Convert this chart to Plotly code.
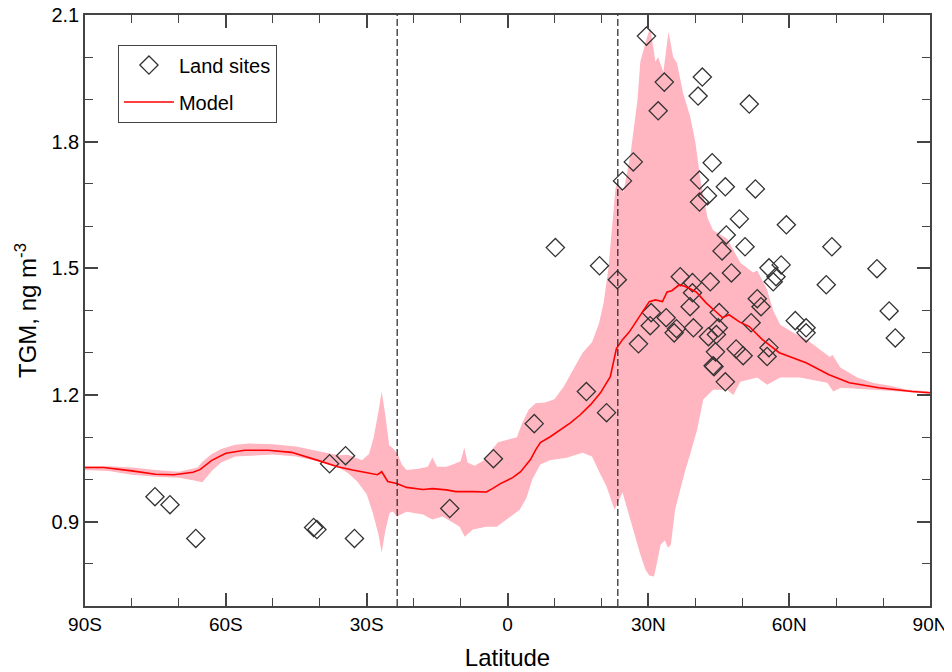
import plotly.graph_objects as go

# ---------------- data ----------------
# Model mean (red line)
model_lat = [-90, -86, -80, -75, -71, -67, -65.5, -63, -60, -56, -51, -46, -40.4, -36.2, -33, -29,
             -27.7, -26.8, -25.5, -23.6, -21.5, -18, -16, -13, -11, -7.4, -4.5, -3.2, -1.5, 0, 1.1,
             2.8, 4.9, 6, 7, 9.1, 11.3, 13.4, 15.5, 17.7, 19.8, 21.9, 23.2, 24.5, 26, 28.1, 30.2,
             31.5, 33, 34, 35, 36.6, 38, 40.2, 42.3, 44.4, 45.8, 47.2, 49.4, 51.5, 54.3, 57.9,
             63.6, 68.5, 72.8, 79.1, 86.2, 90]
model_val = [1.028, 1.028, 1.020, 1.012, 1.011, 1.017, 1.023, 1.045, 1.062, 1.069, 1.069, 1.064,
             1.045, 1.030, 1.022, 1.014, 1.011, 1.018, 0.995, 0.990, 0.981, 0.976, 0.978, 0.975,
             0.971, 0.971, 0.970, 0.978, 0.990, 0.998, 1.004, 1.018, 1.047, 1.070, 1.087, 1.101,
             1.118, 1.134, 1.153, 1.177, 1.205, 1.243, 1.310, 1.331, 1.350, 1.385, 1.421, 1.425,
             1.421, 1.444, 1.447, 1.461, 1.456, 1.444, 1.418, 1.397, 1.383, 1.390, 1.373, 1.362,
             1.331, 1.300, 1.276, 1.248, 1.229, 1.217, 1.208, 1.205]

# Model range: upper edge of the pink band
upper_lat = [-90, -85, -80, -75, -70, -66, -65, -63, -61, -58, -55, -50, -45, -40, -36, -34, -32.5,
             -31, -29.5, -28.5, -27.5, -26.8, -26, -25.2, -24.5, -23.5, -22.5, -21.5, -19, -17, -16,
             -15, -13, -11, -10, -9.2, -8.5, -7, -5, -3, -2, 0, 2, 3, 4.5, 6, 8, 10, 12, 14, 16, 18,
             19.5, 20.5, 21.5, 22.3, 23, 23.5, 24.7, 26.2, 27.7, 28.3, 29.8, 30.4, 31.5, 32.1, 33.2,
             34.3, 35.3, 36.1, 37.4, 38.9, 40, 41.1, 42.6, 43.8, 46.8, 49.6, 52.3, 53.2, 55.3, 56.6,
             58.1, 60.9, 63.8, 66.6, 68.7, 69.2, 70.9, 74.5, 78, 81.5, 85, 90]
upper_val = [1.031, 1.031, 1.028, 1.022, 1.018, 1.028, 1.042, 1.060, 1.072, 1.082, 1.085, 1.083,
             1.078, 1.066, 1.057, 1.058, 1.052, 1.045, 1.060, 1.100, 1.160, 1.208, 1.150, 1.080,
             1.075, 1.062, 1.035, 1.022, 1.025, 1.030, 1.052, 1.030, 1.030, 1.038, 1.043, 1.075,
             1.040, 1.032, 1.045, 1.075, 1.088, 1.094, 1.100, 1.130, 1.165, 1.180, 1.182, 1.190,
             1.220, 1.260, 1.300, 1.325, 1.370, 1.420, 1.500, 1.600, 1.690, 1.700, 1.680, 1.770,
             1.900, 1.990, 2.050, 2.070, 1.990, 2.000, 1.965, 2.060, 2.000, 1.986, 1.915, 1.860,
             1.800, 1.710, 1.620, 1.590, 1.570, 1.513, 1.490, 1.495, 1.449, 1.400, 1.366, 1.347,
             1.331, 1.307, 1.290, 1.295, 1.265, 1.241, 1.228, 1.222, 1.213, 1.208]

# Model range: lower edge of the pink band
lower_lat = [-90, -85, -80, -75, -70, -67, -65, -63, -61, -58, -50, -45, -40, -36, -34, -32, -30,
             -28.7, -27.5, -26.8, -26, -25.1, -24.4, -23.5, -22.5, -21.5, -18, -16, -13.8, -10.2,
             -9.1, -7.4, -4.5, -2.3, -0.2, 2.6, 4, 5.3, 7, 9, 12.6, 16, 18, 19.6, 21.1, 22.8, 24.5,
             26.6, 28.3, 29.4, 30.2, 31.2, 31.8, 32.6, 33.5, 34.2, 34.8, 35.7, 36.8, 37.9, 38.9,
             40.4, 41.7, 43.8, 46.8, 48.1, 49.6, 53.2, 55.3, 58.1, 62.3, 68.1, 69.4, 71, 78, 85, 90]
lower_val = [1.022, 1.020, 1.011, 1.006, 1.004, 0.998, 0.993, 1.020, 1.040, 1.054, 1.059, 1.054,
             1.042, 1.028, 1.015, 0.995, 0.965, 0.921, 0.870, 0.827, 0.880, 0.921, 0.923, 0.912,
             0.918, 0.923, 0.917, 0.905, 0.912, 0.888, 0.864, 0.881, 0.888, 0.888, 0.905, 0.928,
             0.955, 1.000, 1.035, 1.045, 1.051, 1.063, 1.054, 1.016, 0.983, 0.928, 0.969, 0.888,
             0.822, 0.786, 0.772, 0.770, 0.800, 0.845, 0.855, 0.838, 0.845, 0.928, 0.976, 1.023,
             1.059, 1.118, 1.189, 1.212, 1.212, 1.200, 1.231, 1.241, 1.224, 1.241, 1.241, 1.229,
             1.208, 1.217, 1.212, 1.207, 1.203]

# Observations at land sites (diamonds)
site_lat = [-75.1, -71.9, -66.4, -41.3, -40.6, -37.9, -34.5, -32.6, -12.3, -3.0,
            5.7, 10.2, 16.8, 19.6, 21.1, 23.4, 24.5, 26.8, 29.6, 32.1, 33.4, 41.5, 40.6, 51.5,
            43.6, 40.9, 42.6, 40.9, 46.4, 52.8, 49.4, 46.6, 59.4, 50.6, 45.7, 69.1, 47.7, 55.7,
            58.3, 57.2, 56.6, 67.9, 78.7, 81.3, 82.6, 36.8, 39.4, 43.2, 39.4, 30.6, 33.8, 38.9,
            45.1, 30.4, 36.0, 35.5, 39.6, 44.9, 42.8, 44.5, 27.9, 44.3, 43.8, 44.0, 46.4, 53.2,
            54.0, 51.9, 48.7, 50.2, 55.7, 55.3, 61.3, 63.6, 63.6]
site_val = [0.959, 0.940, 0.860, 0.886, 0.881, 1.037, 1.056, 0.860, 0.931, 1.049,
            1.132, 1.549, 1.208, 1.506, 1.158, 1.473, 1.707, 1.752, 2.050, 1.873, 1.941, 1.953,
            1.908, 1.889, 1.750, 1.709, 1.672, 1.657, 1.693, 1.688, 1.617, 1.579, 1.603, 1.551,
            1.541, 1.551, 1.489, 1.501, 1.508, 1.480, 1.468, 1.461, 1.499, 1.399, 1.335, 1.480,
            1.466, 1.468, 1.442, 1.395, 1.383, 1.409, 1.395, 1.364, 1.357, 1.347, 1.359, 1.359,
            1.338, 1.343, 1.321, 1.302, 1.269, 1.267, 1.231, 1.428, 1.409, 1.371, 1.309, 1.293,
            1.312, 1.291, 1.376, 1.359, 1.347]

x_tickvals = [-90, -60, -30, 0, 30, 60, 90]
x_ticktext = ["90S", "60S", "30S", "0", "30N", "60N", "90N"]
x_minor = [-80, -70, -50, -40, -20, -10, 10, 20, 40, 50, 70, 80]
y_tickvals = [0.9, 1.2, 1.5, 1.8, 2.1]
y_ticktext = ["0.9", "1.2", "1.5", "1.8", "2.1"]
y_minor = [0.8, 1.0, 1.1, 1.3, 1.4, 1.6, 1.7, 1.9, 2.0]
tropics = [-23.5, 23.5]

# ---------------- figure ----------------
AX = "#444444"
fig = go.Figure()

band_x = upper_lat + lower_lat[::-1]
band_y = upper_val + lower_val[::-1]
fig.add_trace(go.Scatter(x=band_x, y=band_y, fill="toself", mode="none",
                         fillcolor="#FFB6C1", showlegend=False, hoverinfo="skip"))

fig.add_trace(go.Scatter(x=site_lat, y=site_val, mode="markers", name="Land sites",
                         legendgroup="a",
                         marker=dict(symbol="diamond-open", size=14,
                                     line=dict(color="#333333", width=1.3), color="#333333")))
fig.add_trace(go.Scatter(x=model_lat, y=model_val, mode="lines", name="Model",
                         legendgroup="b",
                         line=dict(color="#FF0000", width=1.6)))

for t in tropics:
    fig.add_shape(type="line", x0=t, x1=t, y0=0, y1=1, xref="x", yref="paper",
                  line=dict(color="#222222", width=1.2, dash="7px,3px"))

fig.update_layout(
    width=944, height=664,
    margin=dict(l=77, r=22, t=7, b=66, autoexpand=False),
    plot_bgcolor="white", paper_bgcolor="white",
    font=dict(family="Liberation Sans, Arial, sans-serif", size=20, color="black"),
    legend=dict(x=0.039, y=0.95, xanchor="left", yanchor="top",
                bordercolor=AX, borderwidth=1, bgcolor="white", itemwidth=50,
                entrywidth=112, entrywidthmode="pixels",
                font=dict(size=20), traceorder="grouped", tracegroupgap=8),
)
fig.update_xaxes(range=[-90, 90], tickmode="array", tickvals=x_tickvals, ticktext=x_ticktext,
                 ticks="inside", ticklen=13, tickwidth=1.5, tickcolor=AX,
                 showline=True, linecolor=AX, linewidth=1.5, mirror="allticks",
                 showgrid=False, zeroline=False, automargin=False,
                 ticklabeloverflow="allow", tickfont=dict(size=19),
                 minor=dict(tickmode="array", tickvals=x_minor, ticks="inside", ticklen=8,
                            tickwidth=1, tickcolor=AX, showgrid=False),
                 title=dict(text="Latitude", standoff=16))
fig.update_yaxes(range=[0.7, 2.1], tickmode="array", tickvals=y_tickvals, ticktext=y_ticktext,
                 ticks="inside", ticklen=13, tickwidth=1.5, tickcolor=AX,
                 showline=True, linecolor=AX, linewidth=1.5, mirror="allticks",
                 showgrid=False, zeroline=False, automargin=False,
                 ticklabeloverflow="allow",
                 minor=dict(tickmode="array", tickvals=y_minor, ticks="inside", ticklen=8,
                            tickwidth=1, tickcolor=AX, showgrid=False),
                 title=dict(text="TGM, ng m<sup>-3</sup>", standoff=8))

fig.write_html("out.html")
